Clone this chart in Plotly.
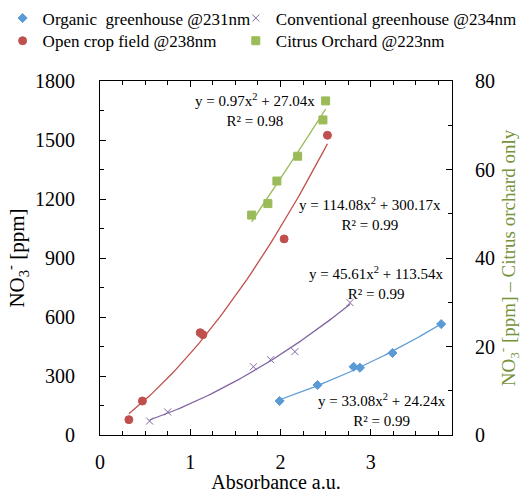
import plotly.graph_objects as go
import numpy as np

# ---- data ----
organic_x = [1.99, 2.41, 2.81, 2.88, 3.24, 3.78]
organic_y = [173, 254, 347, 342, 417, 564]
conv_x = [0.55, 0.75, 1.70, 1.89, 2.16, 2.77]
conv_y = [71, 117, 347, 383, 424, 673]
open_x = [0.32, 0.47, 1.11, 1.14, 2.04, 2.52]
open_y = [78, 173, 520, 510, 997, 1524]
citrus_x = [1.68, 1.86, 1.96, 2.19, 2.47, 2.50]
citrus_y = [49.7, 52.3, 57.4, 63.0, 71.2, 75.5]

# trendline coefficients (y = a x^2 + b x) as printed on the chart
organic_fit = (33.08, 24.24, 0.99)
conv_fit = (45.61, 113.54, 0.99)
open_fit = (114.08, 300.17, 0.99)
citrus_fit = (0.97, 27.04, 0.98)

names = ["Organic  greenhouse @231nm", "Conventional greenhouse @234nm",
         "Open crop field @238nm", "Citrus Orchard @223nm"]

FONT = "Liberation Serif, Times New Roman, DejaVu Serif, serif"
BLUE, PURPLE, RED, GREEN = "#5B9BD5", "#8064A2", "#C0504D", "#9BBB59"
GREEN_TXT = "#77933C"

fig = go.Figure()

def add_series(xs, ys, fit, name, color, symbol, size, legend, yaxis="y"):
    a, b, _ = fit
    xx = np.linspace(min(xs), max(xs), 60)
    fig.add_trace(go.Scatter(x=xx, y=a * xx ** 2 + b * xx, mode="lines",
                             line=dict(color=color, width=1.3), showlegend=False,
                             hoverinfo="skip", yaxis=yaxis))
    fig.add_trace(go.Scatter(x=xs, y=ys, mode="markers", name=name,
                             marker=dict(color=color, symbol=symbol, size=size,
                                         line=dict(color=color, width=1)),
                             legend=legend, yaxis=yaxis))

add_series(organic_x, organic_y, organic_fit, names[0], BLUE, "diamond", 7, "legend")
add_series(conv_x, conv_y, conv_fit, names[1], PURPLE, "x-thin", 7, "legend2")
add_series(open_x, open_y, open_fit, names[2], RED, "circle", 8, "legend3")
add_series(citrus_x, citrus_y, citrus_fit, names[3], GREEN, "square", 8, "legend4", yaxis="y2")

def eq(fit):
    a, b, r = fit
    return f"y = {a:.2f}x<sup>2</sup> + {b:.2f}x<br>R² = {r:.2f}"

ann_pos = [(organic_fit, 3.12, 127), (conv_fit, 3.064, 775),
           (open_fit, 2.99, 1124), (citrus_fit, 1.715, 1653)]
for fit, ax_, ay_ in ann_pos:
    fig.add_annotation(x=ax_, y=ay_, xref="x", yref="y", text=eq(fit),
                       showarrow=False, xanchor="center", yanchor="middle",
                       font=dict(family=FONT, size=15, color="black"))

axis_common = dict(showline=True, linecolor="black", linewidth=1, ticks="inside",
                   tickcolor="black", ticklen=6, showgrid=False, zeroline=False,
                   automargin=False,
                   tickfont=dict(family=FONT, size=20, color="black"))

def leg(x, y):
    return dict(orientation="h", xref="container", yref="container",
                x=x, xanchor="left", y=y, yanchor="top",
                font=dict(family=FONT, size=17), itemwidth=30,
                bgcolor="rgba(0,0,0,0)")

fig.update_layout(
    width=524, height=493,
    margin=dict(l=100, r=72, t=81, b=58, autoexpand=False),
    paper_bgcolor="white", plot_bgcolor="white",
    font=dict(family=FONT, color="black"),
    xaxis=dict(range=[0, 3.9], dtick=1, mirror="ticks",
               minor=dict(dtick=0.25, ticks="inside", ticklen=4, tickcolor="black"),
               title=dict(text="Absorbance a.u.", font=dict(family=FONT, size=20), standoff=0),
               ticklabelstandoff=9, **axis_common),
    yaxis=dict(range=[0, 1800], dtick=300,
               minor=dict(dtick=150, ticks="inside", ticklen=4, tickcolor="black"),
               title=dict(text="NO<sub>3</sub><sup>-</sup> [ppm]", font=dict(family=FONT, size=21), standoff=4),
               ticklabelstandoff=20, **axis_common),
    yaxis2=dict(range=[0, 80], dtick=20, overlaying="y", side="right",
                minor=dict(dtick=10, ticks="inside", ticklen=4, tickcolor="black"),
                title=dict(text="NO<sub>3</sub><sup>-</sup> [ppm] – Citrus orchard only",
                           font=dict(family=FONT, size=19, color=GREEN_TXT), standoff=2),
                ticklabelstandoff=18, **axis_common),
    legend=leg(0.005, 0.999),
    legend2=leg(0.45, 0.999),
    legend3=leg(0.005, 0.953),
    legend4=leg(0.45, 0.953),
)

fig.write_html("out.html")
